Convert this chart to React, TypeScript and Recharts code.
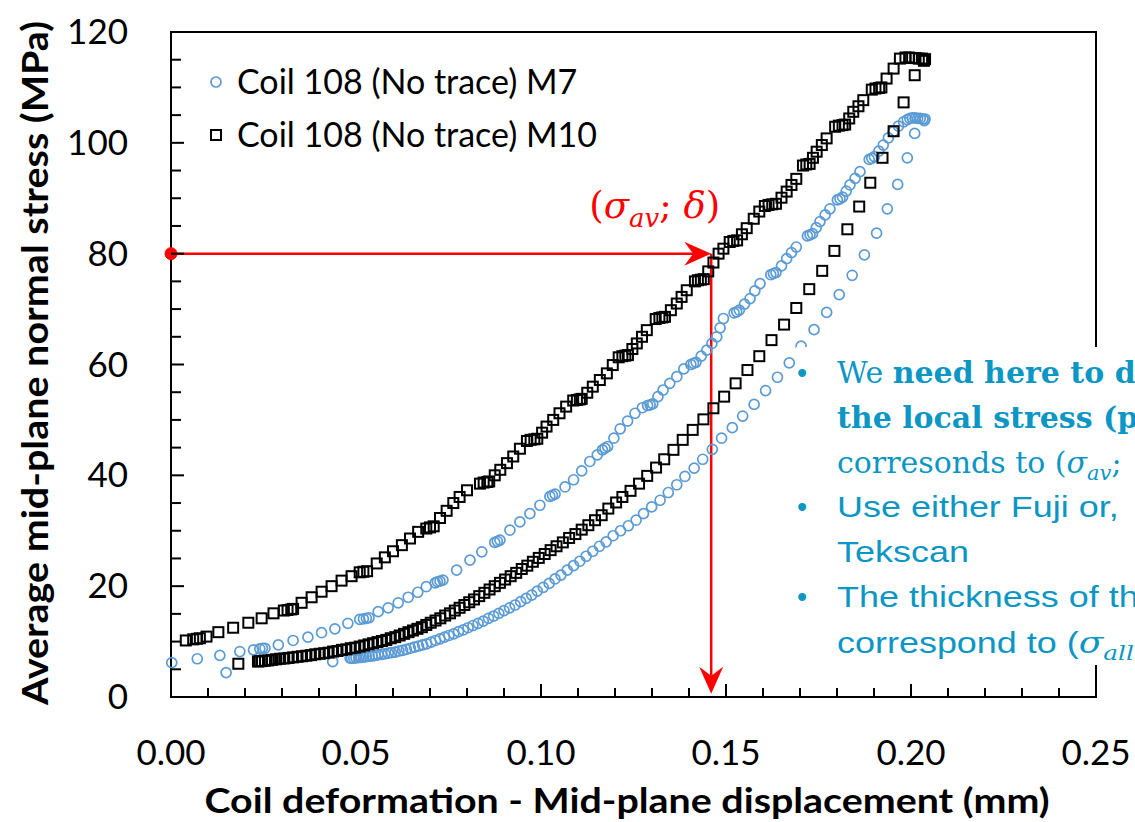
import { ReferenceArea, ReferenceDot, ReferenceLine, Scatter, ScatterChart, XAxis, YAxis } from 'recharts'

// Coil 108 (No trace) M7 - loading branch (upper) and unloading branch (lower)
const m7Loading = [
  [0.0002, 6.2], [0.0071, 6.9], [0.0132, 7.5], [0.0149, 4.4], [0.0186, 8.2], [0.0223, 8.5],
  [0.024, 8.7], [0.0247, 8.8], [0.0254, 8.8], [0.029, 9.4], [0.033, 10.2], [0.037, 10.8],
  [0.0407, 11.6], [0.0443, 12.3], [0.0478, 13.3], [0.051, 14.0], [0.052, 14.1], [0.0528, 14.2],
  [0.0535, 14.3], [0.056, 15.4], [0.0587, 16.1], [0.0614, 17.0], [0.0641, 18.0], [0.0667, 18.9],
  [0.069, 19.9], [0.0714, 20.6], [0.072, 20.8], [0.0727, 20.9], [0.0735, 21.1], [0.0772, 22.9],
  [0.0808, 24.7], [0.084, 26.2], [0.0875, 27.9], [0.0882, 28.1], [0.0889, 28.3], [0.0916, 30.1],
  [0.0943, 31.6], [0.097, 33.1], [0.0997, 34.6], [0.1024, 36.2], [0.1031, 36.4], [0.1038, 36.6],
  [0.1065, 37.9], [0.1088, 39.2], [0.111, 40.8], [0.1132, 42.5], [0.1152, 43.7], [0.1166, 44.6],
  [0.1173, 44.9], [0.118, 45.2], [0.1197, 46.7], [0.1214, 48.4], [0.1234, 49.8], [0.1254, 51.2],
  [0.1274, 52.2], [0.1288, 52.6], [0.1295, 52.7], [0.1302, 52.9], [0.1316, 54.2], [0.133, 55.4],
  [0.1348, 56.6], [0.1367, 57.8], [0.1386, 59.2], [0.1405, 60.0], [0.1412, 60.2], [0.1419, 60.4],
  [0.1433, 61.5], [0.1448, 62.6], [0.1462, 63.8], [0.1475, 65.0], [0.1484, 66.6], [0.1493, 68.3],
  [0.1522, 69.3], [0.1529, 69.5], [0.1536, 69.8], [0.155, 70.9], [0.1565, 71.9], [0.1578, 73.3],
  [0.1592, 74.6], [0.1621, 76.2], [0.1628, 76.4], [0.1635, 76.6], [0.165, 77.8], [0.1664, 79.1],
  [0.1677, 80.2], [0.169, 81.2], [0.172, 83.2], [0.1727, 83.4], [0.1734, 83.6], [0.1744, 84.7],
  [0.1754, 85.8], [0.1768, 87.0], [0.1781, 88.1], [0.1801, 89.7], [0.1808, 89.9], [0.1815, 90.2],
  [0.1825, 91.3], [0.1835, 92.4], [0.1849, 93.6], [0.1862, 94.8], [0.1887, 97.0], [0.1894, 97.2],
  [0.1901, 97.5], [0.1913, 98.5], [0.1925, 99.6], [0.1939, 100.9], [0.1952, 102.0], [0.1966, 103.0],
  [0.198, 103.8], [0.199, 104.2], [0.1997, 104.4], [0.2004, 104.5], [0.2011, 104.5], [0.2018, 104.4],
  [0.2025, 104.4], [0.2032, 104.3], [0.2038, 104.3],
]

const m7Unloading = [
  [0.2036, 104.0], [0.201, 101.7], [0.199, 97.3], [0.1964, 92.5], [0.1936, 88.1], [0.1907, 83.7],
  [0.1874, 79.8], [0.1841, 76.1], [0.1806, 72.6], [0.1772, 69.4], [0.1738, 66.3], [0.1703, 63.3],
  [0.1671, 60.3], [0.1639, 57.7], [0.1607, 55.3], [0.1576, 52.8], [0.1545, 50.7], [0.1517, 48.6],
  [0.1488, 46.7], [0.1463, 44.7], [0.1437, 42.9], [0.1414, 41.3], [0.1389, 39.8], [0.1367, 38.3],
  [0.1344, 36.9], [0.1322, 35.5], [0.1299, 34.3], [0.1277, 33.1], [0.1257, 31.9], [0.1236, 30.9],
  [0.1215, 30.0], [0.1195, 29.1], [0.1176, 28.0], [0.1158, 27.2], [0.114, 26.3], [0.1122, 25.4],
  [0.1105, 24.5], [0.1088, 23.7], [0.1071, 22.9], [0.1054, 22.0], [0.1038, 21.3], [0.1022, 20.5],
  [0.1006, 19.8], [0.099, 19.1], [0.0975, 18.4], [0.096, 17.8], [0.0945, 17.2], [0.093, 16.6],
  [0.0915, 16.1], [0.09, 15.6], [0.0886, 15.1], [0.0872, 14.6], [0.0858, 14.2], [0.0844, 13.7],
  [0.083, 13.3], [0.0816, 12.9], [0.0803, 12.5], [0.079, 12.1], [0.0777, 11.8], [0.0764, 11.4],
  [0.0751, 11.1], [0.0739, 10.8], [0.0727, 10.5], [0.0715, 10.2], [0.0703, 9.9], [0.0691, 9.6],
  [0.068, 9.4], [0.0669, 9.2], [0.0658, 9.0], [0.0647, 8.8], [0.0636, 8.6], [0.0626, 8.4],
  [0.0616, 8.3], [0.0606, 8.1], [0.0596, 8.0], [0.0587, 7.9], [0.0578, 7.8], [0.0569, 7.7],
  [0.056, 7.6], [0.0552, 7.5], [0.0544, 7.4], [0.0536, 7.35], [0.0528, 7.3], [0.0521, 7.2],
  [0.0514, 7.15], [0.0507, 7.1], [0.05, 7.05], [0.0494, 7.0], [0.0488, 7.0], [0.0484, 7.0],
  [0.0437, 6.4],
]

// Coil 108 (No trace) M10
const m10Loading = [
  [0.004, 10.2], [0.006, 10.4], [0.007, 10.5], [0.0078, 10.6], [0.0096, 10.9], [0.0128, 11.7],
  [0.0168, 12.5], [0.0209, 13.4], [0.0245, 14.2], [0.0277, 15.1], [0.0305, 15.6], [0.0315, 15.7],
  [0.0325, 15.8], [0.033, 15.9], [0.0353, 17.0], [0.038, 18.0], [0.0407, 19.0], [0.0434, 20.0],
  [0.0461, 21.0], [0.0488, 21.8], [0.051, 22.5], [0.052, 22.6], [0.053, 22.7], [0.0556, 24.1],
  [0.0578, 25.2], [0.06, 26.3], [0.0624, 27.4], [0.0646, 28.6], [0.0668, 29.8], [0.069, 30.4],
  [0.07, 30.6], [0.071, 30.8], [0.0727, 32.3], [0.0745, 33.6], [0.0763, 35.0], [0.078, 36.1],
  [0.08, 37.3], [0.0835, 38.5], [0.0845, 38.7], [0.0855, 38.8], [0.086, 38.9], [0.0875, 40.0],
  [0.089, 41.0], [0.0908, 42.2], [0.0925, 43.4], [0.0943, 44.8], [0.0962, 46.2], [0.0972, 46.4],
  [0.0982, 46.5], [0.099, 46.6], [0.1003, 47.7], [0.1015, 48.8], [0.1033, 50.0], [0.105, 51.2],
  [0.1068, 52.4], [0.1087, 53.5], [0.1097, 53.6], [0.1105, 53.7], [0.111, 53.8], [0.1125, 54.9],
  [0.114, 56.0], [0.1159, 57.2], [0.1178, 58.4], [0.1194, 59.9], [0.121, 61.3], [0.122, 61.5],
  [0.1228, 61.6], [0.1235, 61.7], [0.1247, 62.8], [0.1259, 63.8], [0.1273, 65.0], [0.1286, 66.2],
  [0.131, 68.2], [0.132, 68.4], [0.1328, 68.5], [0.1335, 68.6], [0.1351, 69.8], [0.1367, 71.0],
  [0.138, 72.2], [0.1394, 73.4], [0.1416, 75.0], [0.1424, 75.2], [0.1432, 75.3], [0.144, 75.4],
  [0.1452, 76.8], [0.1466, 78.4], [0.148, 80.0], [0.1493, 80.9], [0.151, 82.1], [0.152, 82.3],
  [0.153, 82.4], [0.1543, 83.5], [0.1556, 84.6], [0.1575, 86.3], [0.159, 87.6], [0.1605, 88.6],
  [0.1615, 88.8], [0.1625, 88.9], [0.1635, 89.0], [0.165, 90.1], [0.1664, 91.2], [0.1677, 92.4],
  [0.169, 93.5], [0.1708, 95.9], [0.1717, 96.1], [0.1726, 96.2], [0.1735, 97.3], [0.1745, 98.4],
  [0.1759, 99.6], [0.1772, 100.8], [0.1795, 102.9], [0.1805, 103.1], [0.1815, 103.2], [0.1822, 103.3],
  [0.1833, 104.4], [0.1844, 105.6], [0.1858, 106.6], [0.1871, 107.7], [0.1894, 109.6], [0.1904, 109.8],
  [0.1914, 109.9], [0.192, 110.0], [0.1934, 111.6], [0.1953, 113.4], [0.197, 115.2], [0.1985, 115.4],
  [0.1995, 115.4], [0.2003, 115.3], [0.2012, 115.3], [0.2021, 115.2], [0.203, 115.2], [0.2038, 115.1],
]

const m10Unloading = [
  [0.2035, 114.8], [0.201, 112.2], [0.198, 107.3], [0.1953, 102.1], [0.1923, 97.3], [0.189, 92.8],
  [0.186, 88.5], [0.1828, 84.4], [0.1793, 80.5], [0.176, 76.9], [0.1725, 73.6], [0.169, 70.2],
  [0.1657, 67.2], [0.1623, 64.4], [0.159, 61.5], [0.1558, 59.0], [0.1526, 56.6], [0.1495, 54.2],
  [0.1466, 52.1], [0.1439, 50.1], [0.141, 48.2], [0.1383, 46.4], [0.1358, 44.6], [0.1333, 42.9],
  [0.1311, 41.4], [0.1287, 39.9], [0.1265, 38.5], [0.1242, 37.2], [0.122, 36.1], [0.1203, 35.1],
  [0.1182, 34.0], [0.1164, 32.8], [0.1146, 31.9], [0.1128, 31.0], [0.111, 30.2], [0.1093, 29.4],
  [0.1076, 28.7], [0.1059, 27.9], [0.1042, 27.2], [0.1026, 26.5], [0.101, 25.8], [0.0994, 25.1],
  [0.0978, 24.4], [0.0963, 23.7], [0.0948, 23.1], [0.0933, 22.4], [0.0918, 21.8], [0.0903, 21.2],
  [0.0889, 20.6], [0.0875, 20.0], [0.0861, 19.4], [0.0847, 18.8], [0.0833, 18.2], [0.0819, 17.6],
  [0.0806, 17.1], [0.0793, 16.6], [0.078, 16.1], [0.0767, 15.6], [0.0754, 15.1], [0.0741, 14.7],
  [0.0728, 14.2], [0.0715, 13.8], [0.0702, 13.4], [0.069, 13.0], [0.0678, 12.6], [0.0666, 12.3],
  [0.0654, 12.0], [0.0642, 11.7], [0.063, 11.4], [0.0618, 11.1], [0.0606, 10.8], [0.0594, 10.6],
  [0.0582, 10.3], [0.057, 10.1], [0.0558, 9.9], [0.0546, 9.7], [0.0534, 9.5], [0.0522, 9.3],
  [0.051, 9.1], [0.0498, 8.9], [0.0486, 8.8], [0.0474, 8.6], [0.0462, 8.5], [0.045, 8.3],
  [0.0438, 8.2], [0.0426, 8.0], [0.0414, 7.9], [0.0402, 7.8], [0.039, 7.7], [0.0378, 7.55],
  [0.0366, 7.45], [0.0354, 7.35], [0.0342, 7.25], [0.033, 7.15], [0.0318, 7.05], [0.0306, 6.95],
  [0.0295, 6.9], [0.0284, 6.8], [0.0273, 6.7], [0.0263, 6.6], [0.0254, 6.55], [0.0246, 6.5],
  [0.024, 6.45], [0.0235, 6.4], [0.0182, 6.0],
]

// annotation point (sigma_av ; delta)
const sigmaAv = 80
const delta = 0.146

const xTicks = [
  0, 0.01, 0.02, 0.03, 0.04, 0.05, 0.06, 0.07, 0.08, 0.09, 0.1, 0.11, 0.12,
  0.13, 0.14, 0.15, 0.16, 0.17, 0.18, 0.19, 0.2, 0.21, 0.22, 0.23, 0.24, 0.25,
]
const xLabelTicks = [0, 0.05, 0.1, 0.15, 0.2, 0.25]
const yTicks = [
  0, 5, 10, 15, 20, 25, 30, 35, 40, 45, 50, 55, 60, 65, 70, 75, 80, 85, 90, 95, 100, 105, 110, 115, 120,
]
const yLabelTicks = [0, 20, 40, 60, 80, 100, 120]

const BLUE = '#5b9bd5'
const TEAL = '#0c96c4'
const RED = '#ff0000'

const toPts = (arr: number[][]) => arr.map(([x, y]) => ({ x, y }))
const isMajor = (v: number, list: number[]) => list.some((m) => Math.abs(m - v) < 1e-9)

const circleShape = (p: any) => (
  <circle cx={p.cx} cy={p.cy} r={5} fill='none' stroke={BLUE} strokeWidth={1.7} />
)
const squareShape = (p: any) => (
  <rect x={p.cx - 5} y={p.cy - 5} width={10} height={10} fill='none' stroke='#000' strokeWidth={2} />
)

function XTick(props: any) {
  const { x, y, payload } = props
  const major = isMajor(payload.value, xLabelTicks)
  return (
    <g>
      <line x1={x} y1={y} x2={x} y2={y - (major ? 13 : 9)} stroke='#000' strokeWidth={2} />
      {major && (
        <text x={x} y={y + 68} textAnchor='middle' fontFamily='Lato' fontSize={35} fill='#000'>
          {payload.value.toFixed(2)}
        </text>
      )}
    </g>
  )
}

function YTick(props: any) {
  const { x, y, payload } = props
  const major = isMajor(payload.value, yLabelTicks)
  return (
    <g>
      <line x1={x} y1={y} x2={x + (major ? 13 : 10)} y2={y} stroke='#000' strokeWidth={2} />
      {major && (
        <text x={x - 43} y={y + 12} textAnchor='end' fontFamily='Lato' fontSize={35} fill='#000'>
          {payload.value}
        </text>
      )}
    </g>
  )
}

// line with a stealth arrow head at (x2, y2)
function arrowShape(withLabel: boolean) {
  return (props: any) => {
    const { x1, y1, x2, y2 } = props
    const len = Math.hypot(x2 - x1, y2 - y1) || 1
    const dx = (x2 - x1) / len
    const dy = (y2 - y1) / len
    const L = 27
    const W = 12
    const N = 18
    const head = [
      [x2, y2],
      [x2 - dx * L - dy * W, y2 - dy * L + dx * W],
      [x2 - dx * N, y2 - dy * N],
      [x2 - dx * L + dy * W, y2 - dy * L - dx * W],
    ]
    return (
      <g>
        <line x1={x1} y1={y1} x2={x2 - dx * N} y2={y2 - dy * N} stroke={RED} strokeWidth={2.5} />
        <polygon points={head.map((p) => p.join(',')).join(' ')} fill={RED} />
        {withLabel && (
          <text x={x2 + 9} y={y2 - 36} textAnchor='end' fontFamily='DejaVu Serif' fontSize={37} fill={RED}>
            (<tspan fontStyle='italic'>σ</tspan>
            <tspan fontStyle='italic' fontSize={26} dy={9}>av</tspan>
            <tspan dy={-9}>; </tspan>
            <tspan fontStyle='italic'>δ</tspan>)
          </text>
        )}
      </g>
    )
  }
}

export default function App() {
  return (
    <div style={{ position: 'absolute', left: 0, top: 0, width: 1135, height: 822, background: '#fff' }}>
      <ScatterChart width={1135} height={822} margin={{ top: 32, right: 39, bottom: 65, left: 0 }}>
        <XAxis
          type='number'
          dataKey='x'
          domain={[0, 0.25]}
          ticks={xTicks}
          interval={0}
          height={60}
          tickSize={0}
          tickMargin={0}
          tickLine={false}
          axisLine={{ stroke: '#000', strokeWidth: 2 }}
          tick={<XTick />}
        />
        <YAxis
          type='number'
          dataKey='y'
          domain={[0, 120]}
          ticks={yTicks}
          interval={0}
          width={171}
          tickSize={0}
          tickMargin={0}
          tickLine={false}
          axisLine={{ stroke: '#000', strokeWidth: 2 }}
          tick={<YTick />}
        />
        <ReferenceArea x1={0} x2={0.25} y1={0} y2={120} fill='none' fillOpacity={0} stroke='#000' strokeWidth={2} />
        <Scatter
          name='Coil 108 (No trace) M7'
          data={toPts([...m7Loading, ...m7Unloading])}
          shape={circleShape}
          isAnimationActive={false}
        />
        <Scatter
          name='Coil 108 (No trace) M10'
          data={toPts([...m10Loading, ...m10Unloading])}
          shape={squareShape}
          isAnimationActive={false}
        />
        <ReferenceLine
          segment={[{ x: 0, y: sigmaAv }, { x: delta, y: sigmaAv }]}
          shape={arrowShape(true)}
          ifOverflow='visible'
        />
        <ReferenceLine
          segment={[{ x: delta, y: sigmaAv }, { x: delta, y: 0.6 }]}
          shape={arrowShape(false)}
          ifOverflow='visible'
        />
        <ReferenceDot x={0} y={sigmaAv} r={6} fill={RED} stroke={RED} ifOverflow='visible' />
      </ScatterChart>

      <svg
        width={1135}
        height={822}
        style={{ position: 'absolute', left: 0, top: 0, pointerEvents: 'none' }}
      >
        {/* legend */}
        <circle cx={216} cy={82} r={5} fill='none' stroke={BLUE} strokeWidth={1.7} />
        <text x={237} y={94} fontFamily='Lato' fontSize={34} fill='#000'>Coil 108 (No trace) M7</text>
        <rect x={211} y={130} width={10} height={10} fill='none' stroke='#000' strokeWidth={2} />
        <text x={237} y={147} fontFamily='Lato' fontSize={34} fill='#000'>Coil 108 (No trace) M10</text>

        {/* axis titles */}
        <text
          x={627}
          y={813}
          textAnchor='middle'
          fontFamily='Lato'
          fontWeight='bold'
          fontSize={34}
          textLength={845}
          lengthAdjust='spacingAndGlyphs'
        >
          Coil deformation - Mid-plane displacement (mm)
        </text>
        <text
          transform='translate(48 363) rotate(-90)'
          textAnchor='middle'
          fontFamily='Lato'
          fontWeight='bold'
          fontSize={36}
          textLength={684}
          lengthAdjust='spacingAndGlyphs'
        >
          Average mid-plane normal stress (MPa)
        </text>

        {/* comment box, cut by the right edge as in the slide */}
        <rect x={796} y={347} width={339} height={318} fill='#fff' />
        <g fill={TEAL}>
          <text x={797} y={383} fontFamily='Liberation Sans' fontSize={29}>•</text>
          <text x={837} y={383} fontFamily='DejaVu Serif' fontSize={30}>
            We <tspan fontWeight='bold'>need here to d</tspan>
          </text>
          <text x={837} y={428} fontFamily='DejaVu Serif' fontSize={30} fontWeight='bold'>
            the local stress (p
          </text>
          <text x={837} y={473} fontFamily='DejaVu Serif' fontSize={30}>
            corresonds to (<tspan fontStyle='italic'>σ</tspan>
            <tspan fontStyle='italic' fontSize={21} dy={7}>av</tspan>
            <tspan dy={-7}>;</tspan>
          </text>

          <text x={797} y={517} fontFamily='Liberation Sans' fontSize={29}>•</text>
          <text transform='translate(837 517) scale(1.24 1)' fontFamily='Liberation Sans' fontSize={29}>
            Use either Fuji or,
          </text>
          <text transform='translate(837 562) scale(1.24 1)' fontFamily='Liberation Sans' fontSize={29}>
            Tekscan
          </text>

          <text x={797} y={607} fontFamily='Liberation Sans' fontSize={29}>•</text>
          <text transform='translate(837 607) scale(1.24 1)' fontFamily='Liberation Sans' fontSize={29}>
            The thickness of th
          </text>
          <text transform='translate(837 653) scale(1.24 1)' fontFamily='Liberation Sans' fontSize={29}>
            correspond to (<tspan fontFamily='DejaVu Serif' fontStyle='italic'>σ</tspan>
            <tspan fontFamily='DejaVu Serif' fontStyle='italic' fontSize={20} dy={7}>all</tspan>
          </text>
        </g>
      </svg>
    </div>
  )
}
